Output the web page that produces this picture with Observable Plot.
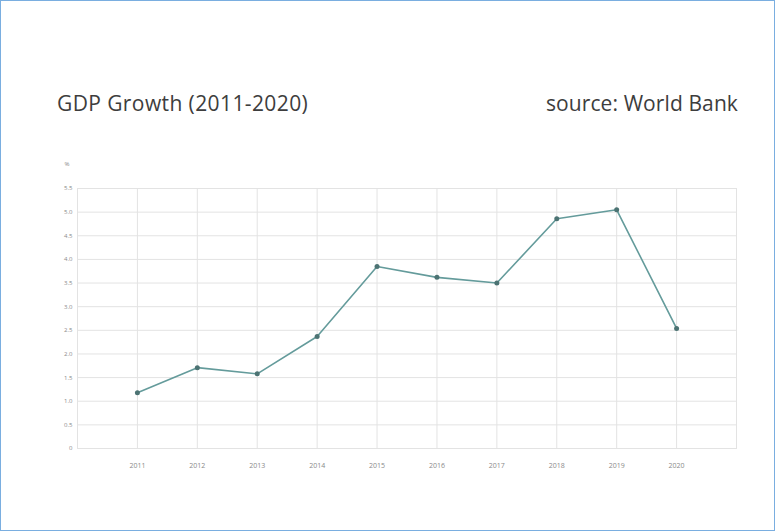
<!DOCTYPE html>
<html>
<head>
<meta charset="utf-8">
<script src="https://cdn.jsdelivr.net/npm/d3@7"></script>
<script src="https://cdn.jsdelivr.net/npm/@observablehq/plot@0.6"></script>
<style>
  html, body { margin: 0; padding: 0; background: #fff; }
  #wrap { position: relative; width: 773px; height: 529px; border: 1px solid #7aaee0; background: #fff; overflow: hidden; }
  #head { position: relative; height: 139px; }
  #title { position: absolute; left: 56px; top: 88px; font: 21px "Open Sans", sans-serif; color: #3d3d3d; letter-spacing: 0.4px; }
  #source { position: absolute; right: 36px; top: 88px; font: 21px "Open Sans", sans-serif; color: #3d3d3d; letter-spacing: 0.1px; }
  svg { display: block; }
</style>
</head>
<body>
<div id="wrap">
  <div id="head">
    <div id="title">GDP Growth (2011-2020)</div>
    <div id="source">source: World Bank</div>
  </div>
  <div id="chart"></div>
</div>
<script>
const years = [2011, 2012, 2013, 2014, 2015, 2016, 2017, 2018, 2019, 2020];
const growth = [1.18, 1.71, 1.58, 2.37, 3.85, 3.62, 3.50, 4.86, 5.05, 2.54];
const yTicks = [0, 0.5, 1, 1.5, 2, 2.5, 3, 3.5, 4, 4.5, 5, 5.5];
const unitLabel = ["%"];

const data = years.map((y, i) => ({year: y, value: growth[i]}));

const plot = Plot.plot({
  width: 773,
  height: 390,
  marginTop: 48,
  marginBottom: 82,
  marginLeft: 76,
  marginRight: 38,
  style: {background: "#fff", fontFamily: "Open Sans, sans-serif"},
  x: {domain: [2010, 2021], ticks: years, tickFormat: d3.format("d"), tickSize: 0, tickPadding: 15},
  y: {domain: [0, 5.5], ticks: yTicks, tickFormat: d => d === 0 ? "0" : d3.format(".1f")(d), tickSize: 0, tickPadding: 5, label: null},
  marks: [
    Plot.gridY(yTicks, {stroke: "#e3e3e3", strokeOpacity: 1}),
    Plot.gridX(years, {stroke: "#e3e3e3", strokeOpacity: 1}),
    Plot.frame({stroke: "#e3e3e3"}),
    Plot.axisX({ticks: years, tickFormat: d3.format("d"), tickSize: 0, tickPadding: 15, fontSize: 7, fill: "#8a8a8a", label: null}),
    Plot.axisY({ticks: yTicks, tickFormat: d => d === 0 ? "0" : d3.format(".1f")(d), tickSize: 0, tickPadding: 5, fontSize: 6, fill: "#8a8a8a", label: null}),
    Plot.text(unitLabel, {text: d => d, frameAnchor: "top-left", dx: -13, dy: -27, fontSize: 6, fill: "#8a8a8a"}),
    Plot.line(data, {x: "year", y: "value", stroke: "#649b9b", strokeWidth: 1.6}),
    Plot.dot(data, {x: "year", y: "value", r: 2.5, fill: "#4c7373", stroke: "none"})
  ]
});
document.getElementById("chart").appendChild(plot);
</script>
</body>
</html>
